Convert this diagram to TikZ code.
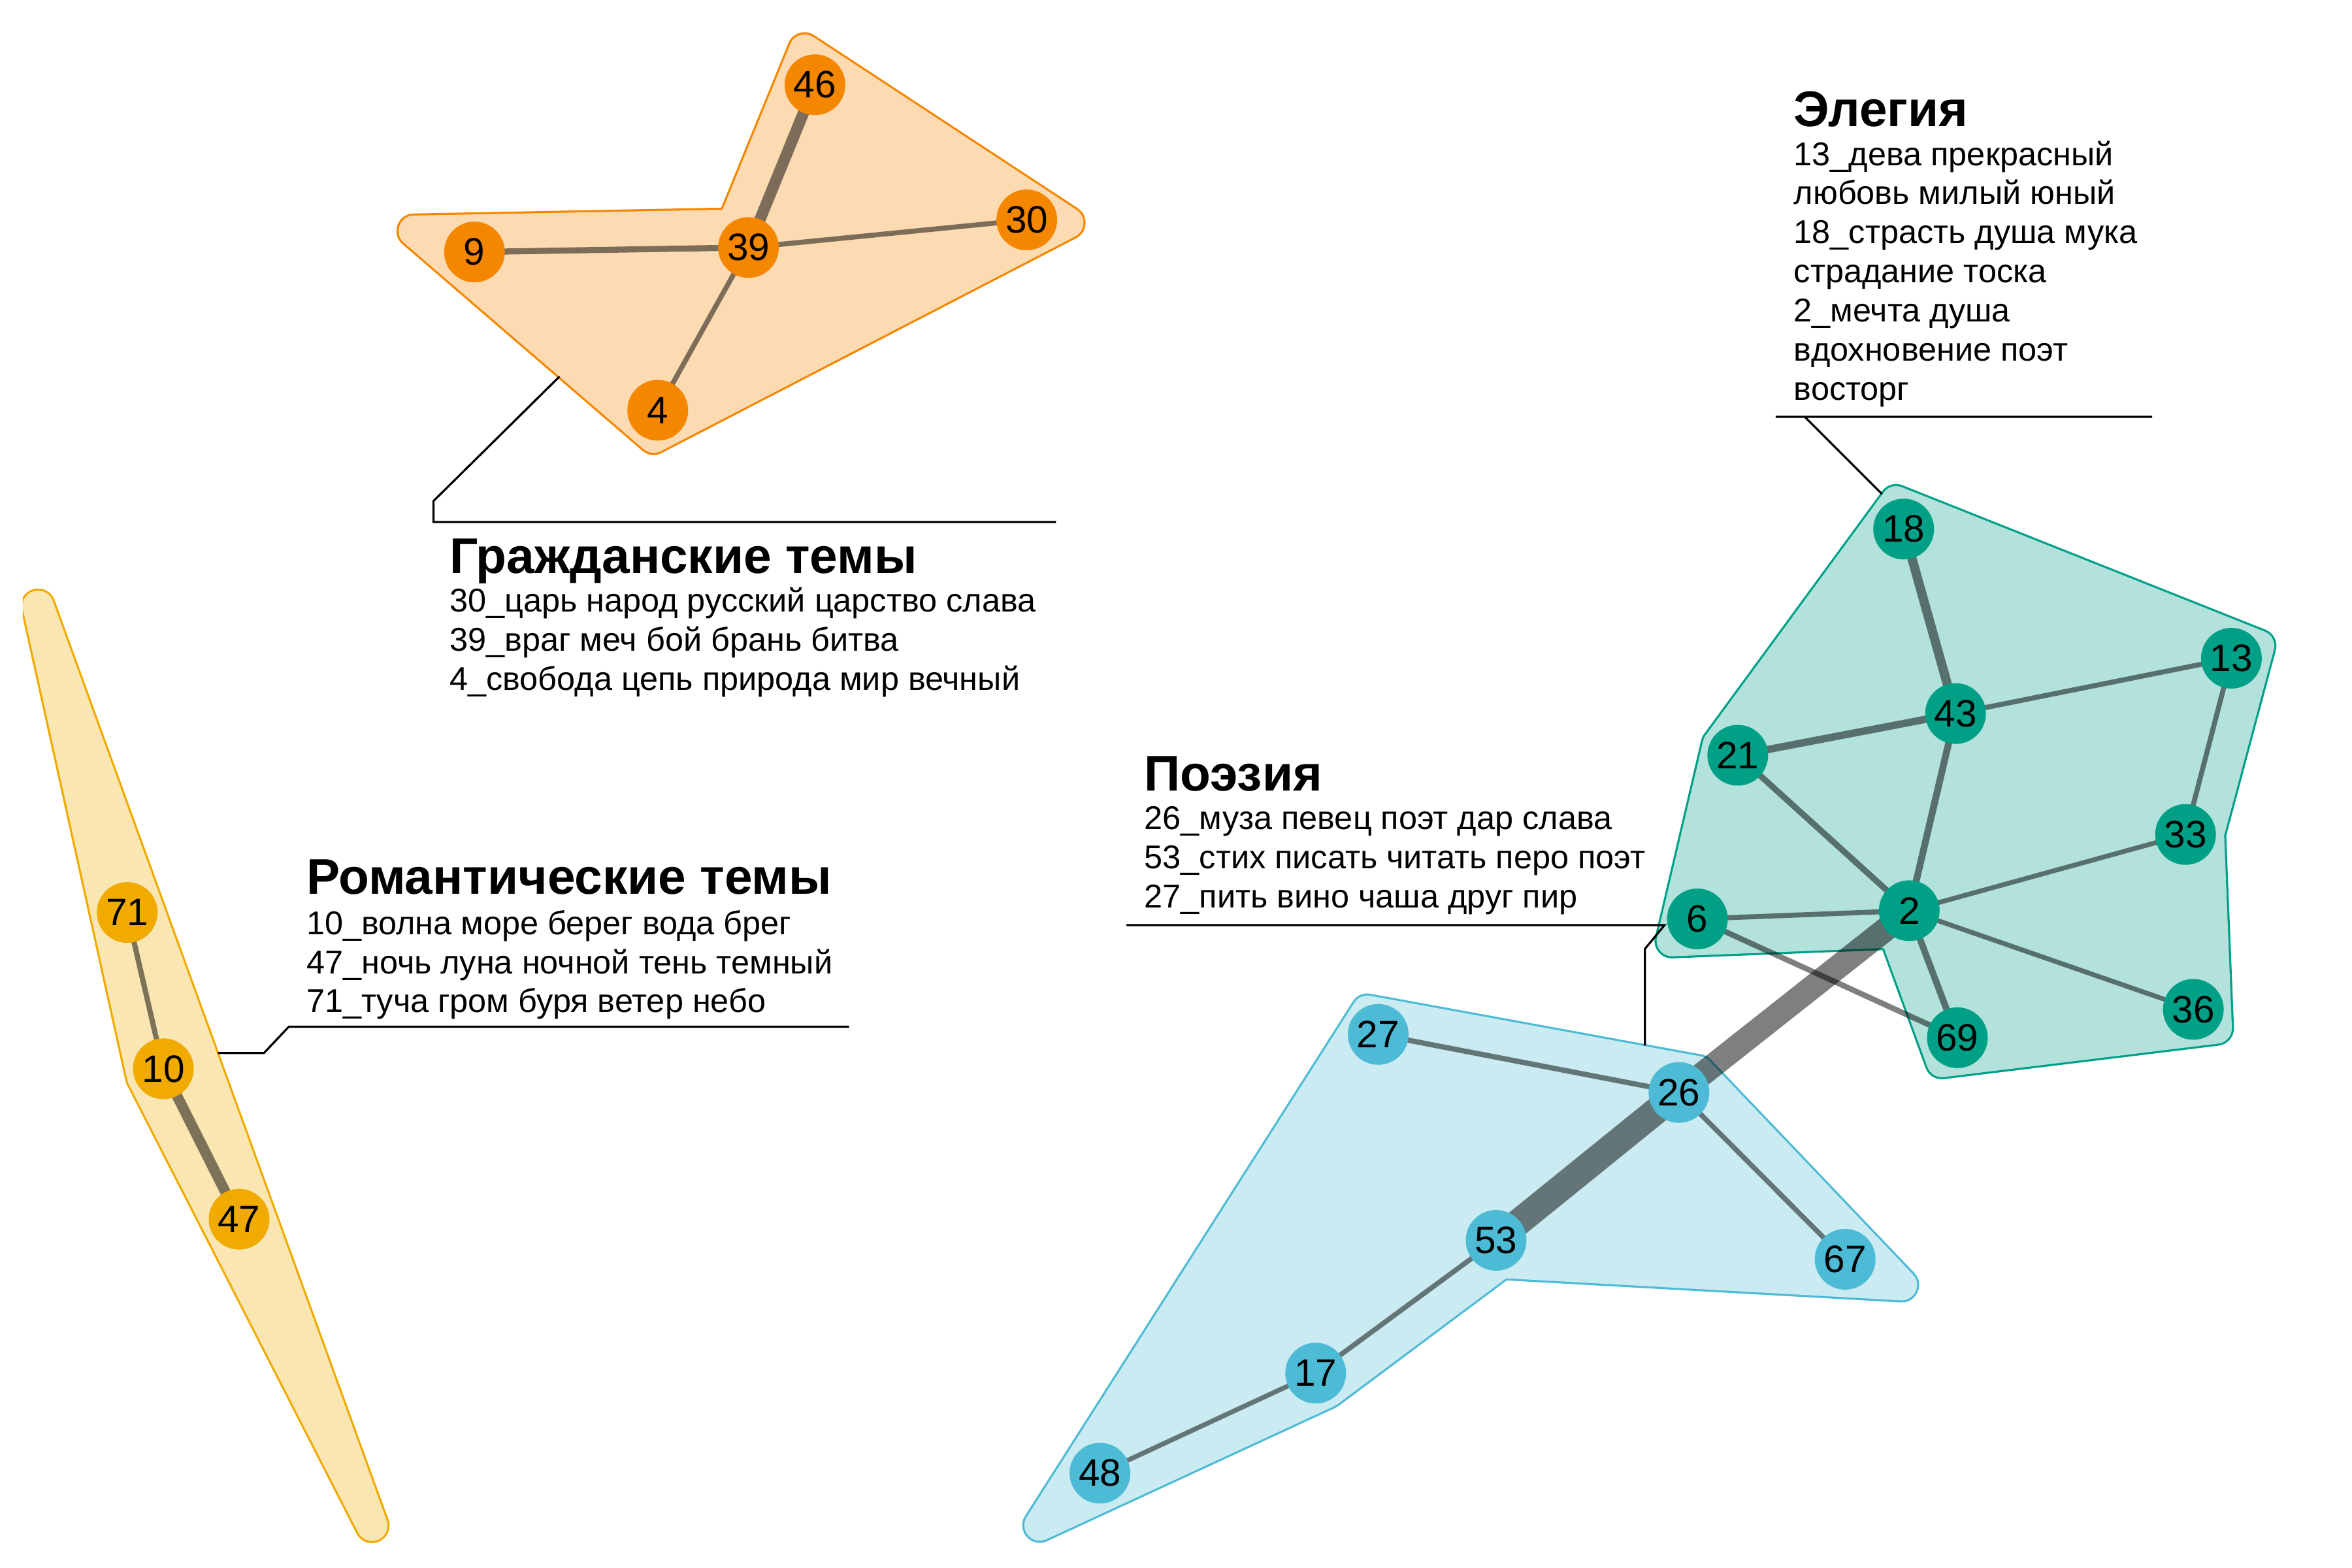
\documentclass[tikz,border=0pt]{standalone}
\usepackage{fontspec}
\setmainfont{Liberation Sans}

\definecolor{civorange}{HTML}{F58700}
\definecolor{romyellow}{HTML}{F0AA00}
\definecolor{poeblue}{HTML}{4DBBD5}
\definecolor{eleteal}{HTML}{00A087}

\pgfdeclarelayer{hulls}
\pgfdeclarelayer{edges}
\pgfsetlayers{hulls,edges,main}

\begin{document}
\begin{tikzpicture}[
    x=0.02cm, y=-0.02cm,
    topic/.style={circle, inner sep=0pt, minimum size=8.1mm,
                  font=\fontsize{14.5}{14.5}\selectfont},
    civ/.style={topic, fill=civorange},
    rom/.style={topic, fill=romyellow},
    ele/.style={topic, fill=eleteal},
    poe/.style={topic, fill=poeblue},
    hull/.style={draw=#1, line width=4.68mm, line join=round,
                 postaction={draw=#1!30, fill=#1!30, line width=4.12mm, line join=round}},
    link/.style={draw=black, draw opacity=0.5, line width=#1pt},
    leader/.style={draw=black, line width=0.8pt},
    title/.style={anchor=base west, inner sep=0pt, font=\fontsize{19}{22}\selectfont\bfseries},
    body/.style={anchor=base west, inner sep=0pt, font=\fontsize{12.5}{14}\selectfont}
]
\useasboundingbox (0,0) rectangle (1568,1045);

% topics
\foreach \n/\x/\y in {46/543.3/56.5, 9/316.3/168, 39/499/165, 30/684.5/146.6, 4/438.5/273.5}
    \node[civ] (n\n) at (\x,\y) {\n};
\foreach \n/\x/\y in {71/84.8/608.3, 10/108.9/712.5, 47/159.4/812.8}
    \node[rom] (n\n) at (\x,\y) {\n};
\foreach \n/\x/\y in {18/1269.1/352.7, 43/1303.7/475.7, 13/1487.6/438.8, 21/1158.5/503.5,
                      33/1457/556.3, 2/1272.8/607.1, 6/1131.6/612.6, 69/1304.9/691.8, 36/1462.2/672.9}
    \node[ele] (n\n) at (\x,\y) {\n};
\foreach \n/\x/\y in {27/918.8/689.6, 26/1119.3/728.3, 53/997.4/826.9, 67/1230.1/839.5,
                      17/877.1/915.4, 48/733.3/982.1}
    \node[poe] (n\n) at (\x,\y) {\n};

% clusters
\begin{pgfonlayer}{hulls}
\draw[hull=civorange] (276,154) -- (488.7,150) -- (536.4,33.2) -- (712,148.5) -- (435.8,291.6) -- cycle;
\begin{scope}
    \clip (15.2,0) rectangle (1568,1045);
    \draw[hull=romyellow] (25.4,404) -- (248,1017) -- (95,718) -- cycle;
\end{scope}
\draw[hull=eleteal] (1264.1,334.4) -- (1505.9,430.6) -- (1472.4,555.8) -- (1477.6,685.5)
    -- (1294.6,707.8) -- (1263,621.4) -- (1114.7,627.2) -- (1145.4,496.3) -- cycle;
\draw[hull=poeblue] (911.6,674) -- (1132.1,714.4) -- (1267.7,856.6) -- (1000.9,841.7)
    -- (885.3,928) -- (693.2,1016.8) -- cycle;
\end{pgfonlayer}

% links
\begin{pgfonlayer}{edges}
\foreach \a/\b/\w in {46/39/4.3, 9/39/2.3, 39/30/1.9, 39/4/1.9,
                      71/10/2, 10/47/4,
                      18/43/3.5, 21/43/2.8, 43/13/1.9, 43/2/2.6, 21/2/2.3, 13/33/1.9,
                      2/33/1.8, 6/2/1.9, 2/36/1.8, 2/69/2.5, 6/69/2.1,
                      2/26/9.1, 26/53/10.2, 27/26/2, 26/67/1.9, 53/17/1.9, 17/48/1.8}
    \draw[link=\w] (n\a.center) -- (n\b.center);
\end{pgfonlayer}

% labels
\coordinate (civ-hull) at (373,251);
\coordinate (civ-knee) at (289,334);
\coordinate (civ-ul-l) at (289,348);
\coordinate (civ-ul-r) at (704,348);
\draw[leader] (civ-hull) -- (civ-knee) -- (civ-ul-l) -- (civ-ul-r);
\node[title] (civ-title) at (299.5,382) {Гражданские темы};
\foreach \ln [count=\i] in {30\_царь народ русский царство слава,
                           39\_враг меч бой брань битва,
                           4\_свобода цепь природа мир вечный}
    \node[body] (civ-\i) at (299.5,{408+26*(\i-1)}) {\ln};

\coordinate (rom-hull) at (145.3,702);
\coordinate (rom-knee) at (176,702);
\coordinate (rom-ul-l) at (192.5,684.5);
\coordinate (rom-ul-r) at (566,684.5);
\draw[leader] (rom-hull) -- (rom-knee) -- (rom-ul-l) -- (rom-ul-r);
\node[title] (rom-title) at (204,596) {Романтические темы};
\foreach \ln [count=\i] in {10\_волна море берег вода брег,
                           47\_ночь луна ночной тень темный,
                           71\_туча гром буря ветер небо}
    \node[body] (rom-\i) at (204,{623+26*(\i-1)}) {\ln};

\coordinate (ele-hull) at (1254.6,329.3);
\coordinate (ele-knee) at (1203.2,277.9);
\coordinate (ele-ul-l) at (1183.8,277.9);
\coordinate (ele-ul-r) at (1434.7,277.9);
\draw[leader] (ele-hull) -- (ele-knee) -- (ele-ul-l) -- (ele-ul-r);
\node[title] (ele-title) at (1195.6,84.4) {Элегия};
\foreach \ln [count=\i] in {13\_дева прекрасный, любовь милый юный,
                           18\_страсть душа мука, страдание тоска,
                           2\_мечта душа, вдохновение поэт, восторг}
    \node[body] (ele-\i) at (1195.6,{110.2+26.1*(\i-1)}) {\ln};

\coordinate (poe-hull) at (1096.6,697);
\coordinate (poe-knee) at (1096.6,632.6);
\coordinate (poe-ul-r) at (1109.7,616.7);
\coordinate (poe-ul-l) at (750.9,616.7);
\draw[leader] (poe-hull) -- (poe-knee) -- (poe-ul-r) -- (poe-ul-l);
\node[title] (poe-title) at (762.6,527.1) {Поэзия};
\foreach \ln [count=\i] in {26\_муза певец поэт дар слава,
                           53\_стих писать читать перо поэт,
                           27\_пить вино чаша друг пир}
    \node[body] (poe-\i) at (762.6,{553.1+26.1*(\i-1)}) {\ln};

\end{tikzpicture}
\end{document}
